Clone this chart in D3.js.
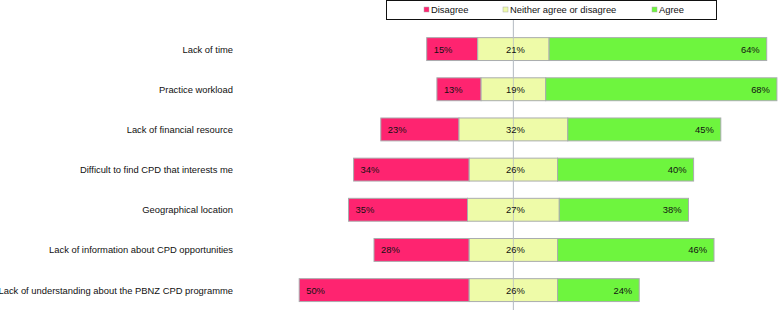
<!DOCTYPE html>
<html>
<head>
<meta charset="utf-8">
<script src="https://cdn.jsdelivr.net/npm/d3@7"></script>
<style>
  body { margin: 0; background: #fff; }
  svg { display: block; font-family: "Liberation Sans", Arial, sans-serif; }
</style>
</head>
<body>
<script>
// data
var categories = [
  "Lack of time",
  "Practice workload",
  "Lack of financial resource",
  "Difficult to find CPD that interests me",
  "Geographical location",
  "Lack of information about CPD opportunities",
  "Lack of understanding about the PBNZ CPD programme"
];
var disagree = [15, 13, 23, 34, 35, 28, 50];
var neutral = [21, 19, 32, 26, 27, 26, 26];
var agree = [64, 68, 45, 40, 38, 46, 24];
var seriesNames = ["Disagree", "Neither agree or disagree", "Agree"];

var colors = ["#fe2470", "#eefba8", "#6ef53e"];

var width = 778, height = 310;
var fontSize = "9.4px";

var svg = d3.select("body")
    .append("svg")
    .attr("width", width)
    .attr("height", height);

// set the ranges, 0 = middle of the neutral segment
var x = d3.scaleLinear().domain([-65, 80]).range([513.4 - 65 * 3.4, 513.4 + 80 * 3.4]);
var y = d3.scaleBand()
    .domain(categories)
    .range([29, 310.2])
    .paddingInner(0.43)
    .paddingOuter(0.215);

// build the segments
var rows = categories.map(function(c, i) {
  var start = -neutral[i] / 2 - disagree[i];
  return [
    {cat: c, s: 0, x0: start, x1: start + disagree[i], v: disagree[i]},
    {cat: c, s: 1, x0: -neutral[i] / 2, x1: neutral[i] / 2, v: neutral[i]},
    {cat: c, s: 2, x0: neutral[i] / 2, x1: neutral[i] / 2 + agree[i], v: agree[i]}
  ];
});
var segs = d3.merge(rows);

// center line (behind bars)
svg.append("line")
    .attr("x1", x(0)).attr("x2", x(0))
    .attr("y1", 20).attr("y2", height)
    .attr("stroke", "#c5cbd0")
    .attr("stroke-width", 1);

svg.selectAll(".seg")
    .data(segs)
    .enter()
    .append("rect")
    .classed("seg", true)
    .attr("x", function(d) { return x(d.x0); })
    .attr("y", function(d) { return y(d.cat); })
    .attr("width", function(d) { return x(d.x1) - x(d.x0); })
    .attr("height", y.bandwidth())
    .attr("fill", function(d) { return colors[d.s]; })
    .attr("stroke", "#a9acae")
    .attr("stroke-width", 1);

// redraw center line over neutral segment
svg.append("line")
    .attr("x1", x(0)).attr("x2", x(0))
    .attr("y1", 20).attr("y2", height)
    .attr("stroke", "#b9c0c6")
    .attr("stroke-width", 1)
    .attr("opacity", 0.8);

// value labels
svg.selectAll(".val")
    .data(segs)
    .enter()
    .append("text")
    .classed("val", true)
    .attr("x", function(d) {
      if (d.s === 0) return x(d.x0) + 7;
      if (d.s === 1) return (x(d.x0) + x(d.x1)) / 2 + 2;
      return x(d.x1) - 7;
    })
    .attr("y", function(d) { return y(d.cat) + y.bandwidth() / 2 + 3.5; })
    .attr("text-anchor", function(d) { return d.s === 0 ? "start" : d.s === 1 ? "middle" : "end"; })
    .style("font-size", fontSize)
    .style("fill", "#111")
    .text(function(d) { return d.v + "%"; });

// category labels
svg.selectAll(".cat")
    .data(categories)
    .enter()
    .append("text")
    .classed("cat", true)
    .attr("x", 233)
    .attr("y", function(d) { return y(d) + y.bandwidth() / 2 + 3.5; })
    .attr("text-anchor", "end")
    .style("font-size", fontSize)
    .style("fill", "#111")
    .text(function(d) { return d; });

// legend
var legend = svg.append("g");
legend.append("rect")
    .attr("x", 386.5).attr("y", 0.5)
    .attr("width", 330).attr("height", 19)
    .attr("fill", "#fff")
    .attr("stroke", "#111");

var legendX = [424, 503, 652];
seriesNames.forEach(function(name, i) {
  legend.append("rect")
      .attr("x", legendX[i]).attr("y", 7)
      .attr("width", 5).attr("height", 5)
      .attr("fill", colors[i])
      .attr("stroke", "#aaa")
      .attr("stroke-width", 0.5);
  legend.append("text")
      .attr("x", legendX[i] + 7)
      .attr("y", 13)
      .style("font-size", fontSize)
      .style("fill", "#111")
      .text(name);
});
</script>
</body>
</html>
